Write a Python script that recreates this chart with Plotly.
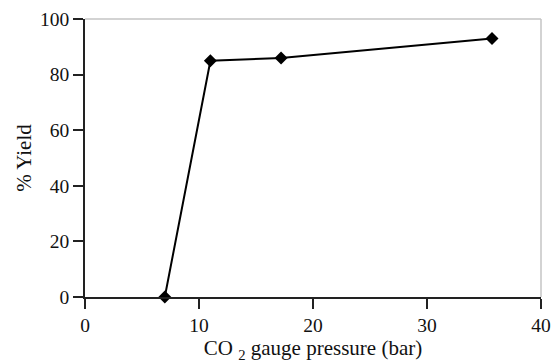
import plotly.graph_objects as go

pressure = [7, 11, 17.2, 35.7]
yield_pct = [0, 85, 86, 93]
x_ticks = [0, 10, 20, 30, 40]
y_ticks = [0, 20, 40, 60, 80, 100]

font = dict(family="Liberation Serif, Times New Roman, serif", size=19.5, color="#111")
title_font = dict(family="Liberation Serif, Times New Roman, serif", size=21, color="#111")

fig = go.Figure()
fig.add_trace(go.Scatter(
    x=pressure, y=yield_pct, mode="lines+markers",
    line=dict(color="black", width=2),
    marker=dict(symbol="diamond", size=10, color="black"),
    cliponaxis=False, showlegend=False,
))

fig.update_layout(
    width=552, height=363,
    margin=dict(l=85, r=11, t=19, b=66, autoexpand=False),
    paper_bgcolor="white", plot_bgcolor="white",
    font=font,
    xaxis=dict(range=[0, 40], tickvals=x_ticks, showgrid=False, zeroline=False,
               showline=True, linecolor="#222", linewidth=1.5, automargin=False,
               ticks="outside", ticklen=10, tickwidth=1.5, tickcolor="#222",
               title=dict(text="CO <sub>2</sub> gauge pressure (bar)", standoff=2, font=title_font)),
    yaxis=dict(range=[0, 100], tickvals=y_ticks, showgrid=False, zeroline=False,
               showline=True, linecolor="#222", linewidth=1.5, automargin=False,
               ticks="outside", ticklen=10, tickwidth=1.5, tickcolor="#222",
               title=dict(text="% Yield", standoff=3, font=title_font)),
    shapes=[
        dict(type="line", xref="paper", yref="paper", x0=0, x1=1, y0=1, y1=1,
             line=dict(color="#c4c4c4", width=1.5)),
        dict(type="line", xref="paper", yref="paper", x0=1, x1=1, y0=0, y1=1,
             line=dict(color="#c4c4c4", width=1.5)),
    ],
)

fig.write_html("out.html")
